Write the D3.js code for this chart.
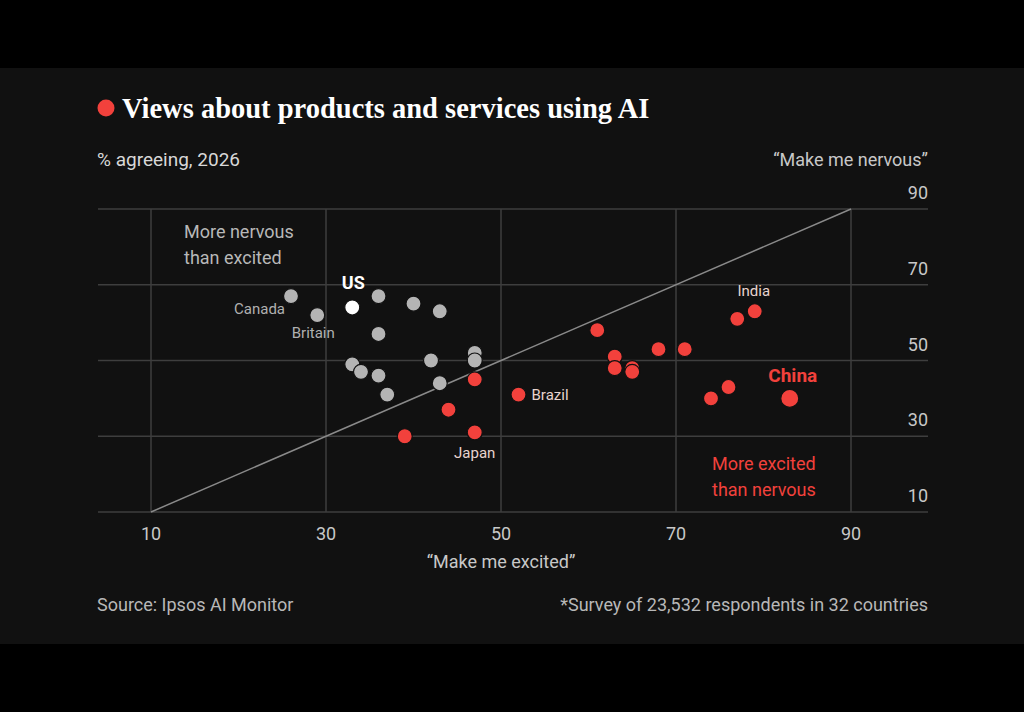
<!DOCTYPE html>
<html>
<head>
<meta charset="utf-8">
<script src="https://cdn.jsdelivr.net/npm/d3@7"></script>
<style>
  html, body { margin: 0; padding: 0; background: #000; }
  svg { display: block; }
</style>
</head>
<body>
<div id="chart"></div>
<script>
// data: % saying AI products "make me excited" / "make me nervous"
const country = ["Canada", "Britain", "US", "", "", "", "", "", "", "", "", "", "", "", "",
                 "", "Brazil", "", "", "Japan", "", "", "", "", "", "", "", "", "India", "", "", "China"];
const excited = [26, 29, 33, 36, 40, 43, 36, 47, 47, 42, 33, 34, 36, 43, 37,
                 47, 52, 44, 39, 47, 61, 63, 63, 65, 65, 68, 71, 77, 79, 76, 74, 83];
const nervous = [67, 62, 64, 67, 65, 63, 57, 52, 50, 50, 49, 47, 46, 44, 41,
                 45, 41, 37, 30, 31, 58, 51, 48, 48, 47, 53, 53, 61, 63, 43, 40, 40];
const xTicks = [10, 30, 50, 70, 90];
const yTicks = [10, 30, 50, 70, 90];

const W = 1024, H = 712;
const red = "#f2413c", grey = "#b4b4b4", grid = "#3e3e3e";
const sans = "Roboto, 'Liberation Sans', sans-serif";

let svg = d3.select("#chart")
    .append("svg")
        .attr("width", W)
        .attr("height", H);

// black bands top and bottom, dark panel in the middle
svg.append("rect").attr("width", W).attr("height", H).attr("fill", "#000");
svg.append("rect").attr("y", 68).attr("width", W).attr("height", 576).attr("fill", "#111");

// scales
let x = d3.scaleLinear().domain([10, 90]).range([151, 851]);
let y = d3.scaleLinear().domain([10, 90]).range([512, 209]);

// horizontal gridlines + right-side labels
let gy = svg.append("g");
gy.selectAll("line").data(yTicks).enter().append("line")
    .attr("x1", 98).attr("x2", 928)
    .attr("y1", d => y(d)).attr("y2", d => y(d))
    .attr("stroke", grid).attr("stroke-width", 1.5);
gy.selectAll("text").data(yTicks).enter().append("text")
    .attr("x", 928).attr("y", d => y(d) - 10)
    .attr("text-anchor", "end")
    .attr("fill", "#c8c8c8").attr("font-family", sans).attr("font-size", 18)
    .text(d => d);

// vertical gridlines + bottom labels
let gx = svg.append("g");
gx.selectAll("line").data(xTicks).enter().append("line")
    .attr("x1", d => x(d)).attr("x2", d => x(d))
    .attr("y1", y(90)).attr("y2", y(10))
    .attr("stroke", grid).attr("stroke-width", 1.5);
gx.selectAll("text").data(xTicks).enter().append("text")
    .attr("x", d => x(d)).attr("y", 540)
    .attr("text-anchor", "middle")
    .attr("fill", "#c8c8c8").attr("font-family", sans).attr("font-size", 18)
    .text(d => d);

// diagonal: excited == nervous
svg.append("line")
    .attr("x1", x(10)).attr("y1", y(10))
    .attr("x2", x(90)).attr("y2", y(90))
    .attr("stroke", "#8a8a8a").attr("stroke-width", 1.5);

// dots
let pts = d3.range(country.length);
svg.append("g").selectAll("circle").data(pts).enter().append("circle")
    .attr("cx", i => x(excited[i]))
    .attr("cy", i => y(nervous[i]))
    .attr("r", i => country[i] === "China" ? 9 : 7.5)
    .attr("fill", i => country[i] === "US" ? "#fff" : (excited[i] > nervous[i] ? red : grey))
    .attr("stroke", "#111").attr("stroke-width", 1.2);

// country labels
const lab = {
    Canada:  {dx: -6, dy: 18, anchor: "end",    fill: "#b0b0b0"},
    Britain: {dx: -4, dy: 23, anchor: "middle", fill: "#b0b0b0"},
    US:      {dx: 1,  dy: -18, anchor: "middle", fill: "#fff", weight: 700, size: 18},
    Brazil:  {dx: 13, dy: 5,  anchor: "start",  fill: "#e8d4ce"},
    Japan:   {dx: 0,  dy: 26, anchor: "middle", fill: "#e8d4ce"},
    India:   {dx: -1, dy: -15, anchor: "middle", fill: "#e8d4ce"},
    China:   {dx: 3,  dy: -16, anchor: "middle", fill: red, weight: 700, size: 19}
};
svg.append("g").selectAll("text").data(pts.filter(i => country[i] !== "")).enter().append("text")
    .attr("x", i => x(excited[i]) + lab[country[i]].dx)
    .attr("y", i => y(nervous[i]) + lab[country[i]].dy)
    .attr("text-anchor", i => lab[country[i]].anchor)
    .attr("fill", i => lab[country[i]].fill)
    .attr("font-weight", i => lab[country[i]].weight || 400)
    .attr("font-size", i => lab[country[i]].size || 15)
    .attr("font-family", sans)
    .text(i => country[i]);

// quadrant notes
function note(lines, x0, y0, fill) {
    svg.append("text")
        .attr("x", x0).attr("y", y0)
        .attr("fill", fill).attr("font-family", sans).attr("font-size", 18)
        .selectAll("tspan").data(lines).enter().append("tspan")
            .attr("x", x0).attr("dy", (d, i) => i ? 26 : 0)
            .text(d => d);
}
note(["More nervous", "than excited"], 184, 238, "#b8b8b8");
note(["More excited", "than nervous"], 712, 470, red);

// title, subtitles, axis titles, footer
svg.append("circle").attr("cx", 106).attr("cy", 108).attr("r", 8.5).attr("fill", red);
svg.append("text")
    .attr("x", 122).attr("y", 118)
    .attr("fill", "#fff")
    .attr("font-family", "'Liberation Serif', 'DejaVu Serif', serif")
    .attr("font-weight", 700).attr("font-size", 28.5)
    .text("Views about products and services using AI");

svg.append("text")
    .attr("x", 97).attr("y", 166)
    .attr("fill", "#d8d8d8").attr("font-family", sans).attr("font-size", 19)
    .text("% agreeing, 2026");
svg.append("text")
    .attr("x", 928).attr("y", 166).attr("text-anchor", "end")
    .attr("fill", "#c8c8c8").attr("font-family", sans).attr("font-size", 18)
    .text("\u201cMake me nervous\u201d");
svg.append("text")
    .attr("x", x(50)).attr("y", 568).attr("text-anchor", "middle")
    .attr("fill", "#c8c8c8").attr("font-family", sans).attr("font-size", 18)
    .text("\u201cMake me excited\u201d");

svg.append("text")
    .attr("x", 97).attr("y", 611)
    .attr("fill", "#b8b8b8").attr("font-family", sans).attr("font-size", 18)
    .text("Source: Ipsos AI Monitor");
svg.append("text")
    .attr("x", 928).attr("y", 611).attr("text-anchor", "end")
    .attr("fill", "#b8b8b8").attr("font-family", sans).attr("font-size", 18)
    .text("*Survey of 23,532 respondents in 32 countries");
</script>
</body>
</html>
